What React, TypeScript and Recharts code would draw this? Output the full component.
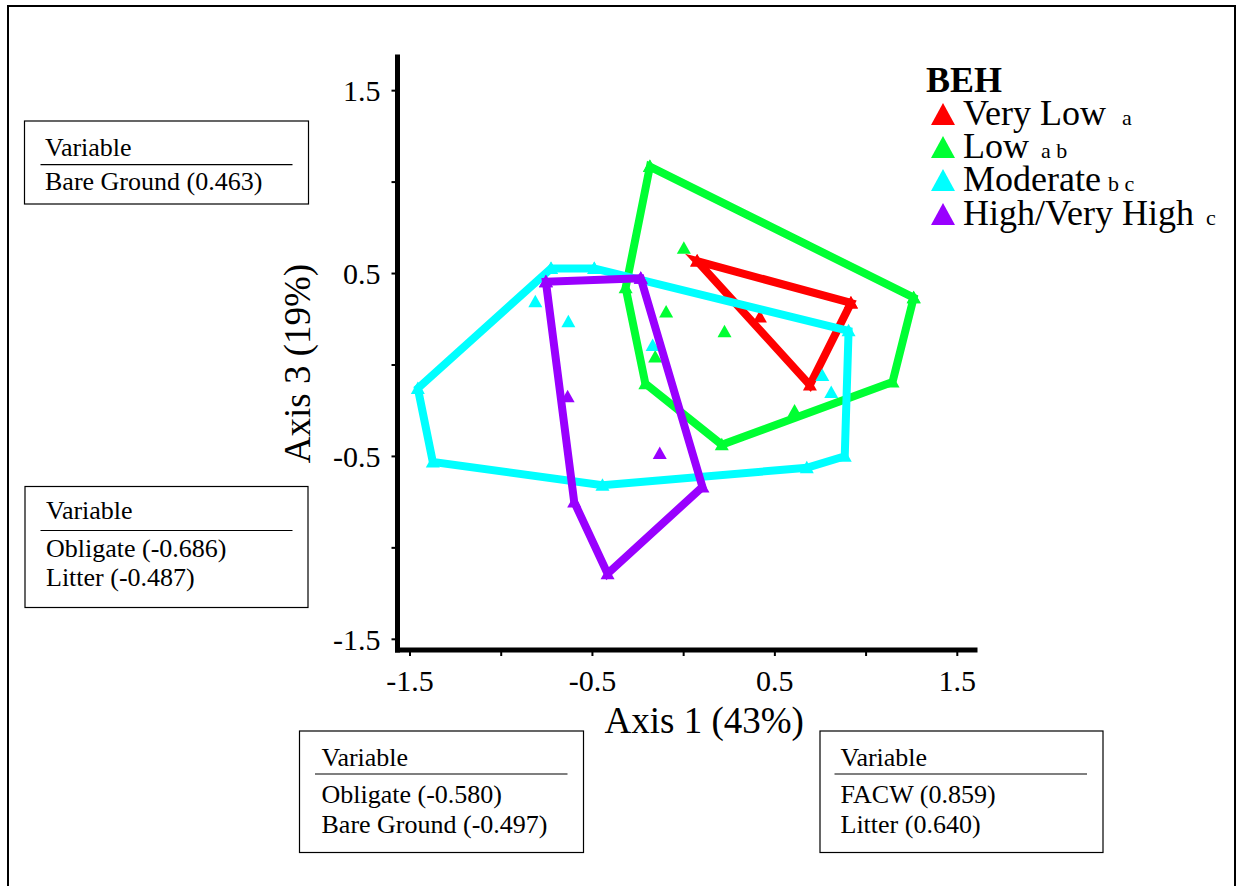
import { ScatterChart, Scatter, XAxis, YAxis, Label } from 'recharts';

const FONT = '"Liberation Serif", "Times New Roman", Times, serif';

// axis ticks every 0.5, only every other one carries a label
const axisTicks = [-1.5, -1, -0.5, 0, 0.5, 1, 1.5];
const labelledTicks = [-1.5, -0.5, 0.5, 1.5];

// Very Low
const veryLowHull = [
  { x: 0.074, y: 0.568 },
  { x: 0.917, y: 0.339 },
  { x: 0.692, y: -0.11 },
];
const veryLowInner = [{ x: 0.418, y: 0.262 }];

// Low
const lowHull = [
  { x: -0.185, y: 1.085 },
  { x: 1.261, y: 0.368 },
  { x: 1.145, y: -0.093 },
  { x: 0.209, y: -0.436 },
  { x: -0.21, y: -0.102 },
  { x: -0.318, y: 0.422 },
];
const lowInner = [
  { x: 0.001, y: 0.638 },
  { x: -0.096, y: 0.29 },
  { x: 0.224, y: 0.181 },
  { x: -0.156, y: 0.043 },
  { x: 0.608, y: -0.252 },
];

// Moderate
const moderateHull = [
  { x: -0.727, y: 0.528 },
  { x: -0.49, y: 0.528 },
  { x: 0.904, y: 0.187 },
  { x: 0.883, y: -0.499 },
  { x: 0.675, y: -0.562 },
  { x: -0.445, y: -0.658 },
  { x: -1.375, y: -0.53 },
  { x: -1.457, y: -0.128 },
];
const moderateInner = [
  { x: -0.813, y: 0.346 },
  { x: -0.632, y: 0.236 },
  { x: -0.17, y: 0.106 },
  { x: 0.76, y: -0.057 },
  { x: 0.809, y: -0.151 },
];

// High/Very High
const highHull = [
  { x: -0.755, y: 0.455 },
  { x: -0.235, y: 0.474 },
  { x: 0.103, y: -0.667 },
  { x: -0.417, y: -1.141 },
  { x: -0.6, y: -0.749 },
];
const highInner = [
  { x: -0.636, y: -0.174 },
  { x: -0.131, y: -0.484 },
];

const groupNames = ['Very Low', 'Low', 'Moderate', 'High/Very High'];
const groupLetters = ['a', 'a b', 'b c', 'c'];
const groupColors = ['#FF0000', '#00FF33', '#00FFFF', '#9900FF'];
const hulls = [veryLowHull, lowHull, moderateHull, highHull];
const inners = [veryLowInner, lowInner, moderateInner, highInner];

// loadings shown in the side boxes
const boxRows = [
  ['Bare Ground (0.463)'],
  ['Obligate (-0.686)', 'Litter (-0.487)'],
  ['Obligate (-0.580)', 'Bare Ground (-0.497)'],
  ['FACW (0.859)', 'Litter (0.640)'],
];

// repeat the first two vertices so the outline closes with a proper join
const closeRing = (pts: { x: number; y: number }[]) => [...pts, pts[0], pts[1]];

const triangle = (color: string) => (props: any) => {
  const { cx, cy } = props;
  if (cx == null || cy == null) return <g />;
  return <path d={`M${cx},${cy - 7}L${cx + 7},${cy + 5.5}L${cx - 7},${cy + 5.5}Z`} fill={color} />;
};

const fmtTick = (v: number) => (labelledTicks.includes(v) ? String(v) : '');

const XTitle = (props: any) => {
  const vb = props.viewBox || { x: 397.5, y: 650, width: 577.5 };
  return (
    <text x={vb.x + vb.width / 2 + 18} y={vb.y + 83} textAnchor="middle" fontFamily={FONT} fontSize={37} fill="#000">
      Axis 1 (43%)
    </text>
  );
};

const YTitle = (props: any) => {
  const vb = props.viewBox || { x: 337.5, y: 57, width: 60, height: 593 };
  const x = vb.x - 27.5;
  const y = vb.y + vb.height / 2 + 10;
  return (
    <text x={x} y={y} transform={`rotate(-90, ${x}, ${y})`} textAnchor="middle" fontFamily={FONT} fontSize={37} fill="#000">
      Axis 3 (19%)
    </text>
  );
};

const boxes = [
  { x: 24.5, y: 121, w: 284, h: 83, tx: 45, base: 156, rule: 164.7, r0: 40.5, r1: 292.5, rows: [190] },
  { x: 25, y: 486.5, w: 283, h: 121, tx: 46, base: 519, rule: 530.5, r0: 40.5, r1: 292.5, rows: [557, 586] },
  { x: 299.5, y: 731, w: 284, h: 121.5, tx: 321.5, base: 766, rule: 774, r0: 315, r1: 567.5, rows: [803, 832.5] },
  { x: 820, y: 731, w: 283, h: 121.5, tx: 840.5, base: 766, rule: 774, r0: 834.5, r1: 1087, rows: [803, 832.5] },
];

const legendBaselines = [125, 158, 191, 225];
const letterX = [1122, 1041, 1108, 1206];

export default function App() {
  return (
    <div
      style={{
        position: 'absolute',
        left: 0,
        top: 0,
        width: 1238,
        height: 886,
        overflow: 'hidden',
        background: '#fff',
      }}
    >
      <div
        style={{
          position: 'absolute',
          left: 7,
          top: 5,
          width: 1229,
          height: 920,
          border: '2px solid #000',
          boxSizing: 'border-box',
        }}
      />
      <div style={{ position: 'absolute', left: 0, top: 0 }}>
        <ScatterChart width={1238} height={886} margin={{ top: 57, right: 263, bottom: 176, left: 337.5 }}>
          <XAxis
            type="number"
            dataKey="x"
            domain={[-1.5685, 1.597]}
            ticks={axisTicks}
            tickFormatter={fmtTick}
            allowDataOverflow
            interval={0}
            height={60}
            axisLine={{ stroke: '#000', strokeWidth: 5, strokeLinecap: 'square' }}
            tickLine={{ stroke: '#000', strokeWidth: 2 }}
            tickSize={6}
            tickMargin={14}
            tick={{ fill: '#000', fontSize: 30, fontFamily: FONT }}
          >
            <Label content={XTitle} />
          </XAxis>
          <YAxis
            type="number"
            dataKey="y"
            domain={[-1.5585, 1.684]}
            ticks={axisTicks}
            tickFormatter={fmtTick}
            allowDataOverflow
            interval={0}
            width={60}
            axisLine={{ stroke: '#000', strokeWidth: 5, strokeLinecap: 'square' }}
            tickLine={{ stroke: '#000', strokeWidth: 2 }}
            tickSize={6}
            tickMargin={11}
            tick={{ fill: '#000', fontSize: 30, fontFamily: FONT }}
          >
            <Label content={YTitle} />
          </YAxis>
          {hulls.map((hull, i) => [
            <Scatter
              key={`hull-${i}`}
              name={groupNames[i]}
              data={closeRing(hull)}
              fill={groupColors[i]}
              line={{ stroke: groupColors[i], strokeWidth: 8 }}
              shape={triangle(groupColors[i])}
              isAnimationActive={false}
            />,
            <Scatter
              key={`inner-${i}`}
              name={groupNames[i]}
              data={inners[i]}
              fill={groupColors[i]}
              shape={triangle(groupColors[i])}
              isAnimationActive={false}
            />,
          ])}
        </ScatterChart>
      </div>
      <svg
        width={1238}
        height={886}
        style={{ position: 'absolute', left: 0, top: 0, pointerEvents: 'none' }}
        fontFamily={FONT}
      >
        {/* legend */}
        <text x={926} y={92} fontSize={36} fontWeight="bold" fill="#000">
          BEH
        </text>
        {groupNames.map((name, i) => {
          const b = legendBaselines[i];
          return (
            <g key={name}>
              <path d={`M943,${b - 22}L955,${b}L931,${b}Z`} fill={groupColors[i]} />
              <text x={963} y={b} fontSize={36} fill="#000">
                {name}
              </text>
              <text x={letterX[i]} y={b} fontSize={22} fill="#000">
                {groupLetters[i]}
              </text>
            </g>
          );
        })}
        {/* loading boxes */}
        {boxes.map((bx, i) => (
          <g key={i}>
            <rect x={bx.x} y={bx.y} width={bx.w} height={bx.h} fill="none" stroke="#000" strokeWidth={1.2} />
            <text x={bx.tx} y={bx.base} fontSize={26} fill="#000">
              Variable
            </text>
            <line x1={bx.r0} x2={bx.r1} y1={bx.rule} y2={bx.rule} stroke="#000" strokeWidth={1.2} />
            {boxRows[i].map((row, j) => (
              <text key={row} x={bx.tx} y={bx.rows[j]} fontSize={26} fill="#000">
                {row}
              </text>
            ))}
          </g>
        ))}
      </svg>
    </div>
  );
}
